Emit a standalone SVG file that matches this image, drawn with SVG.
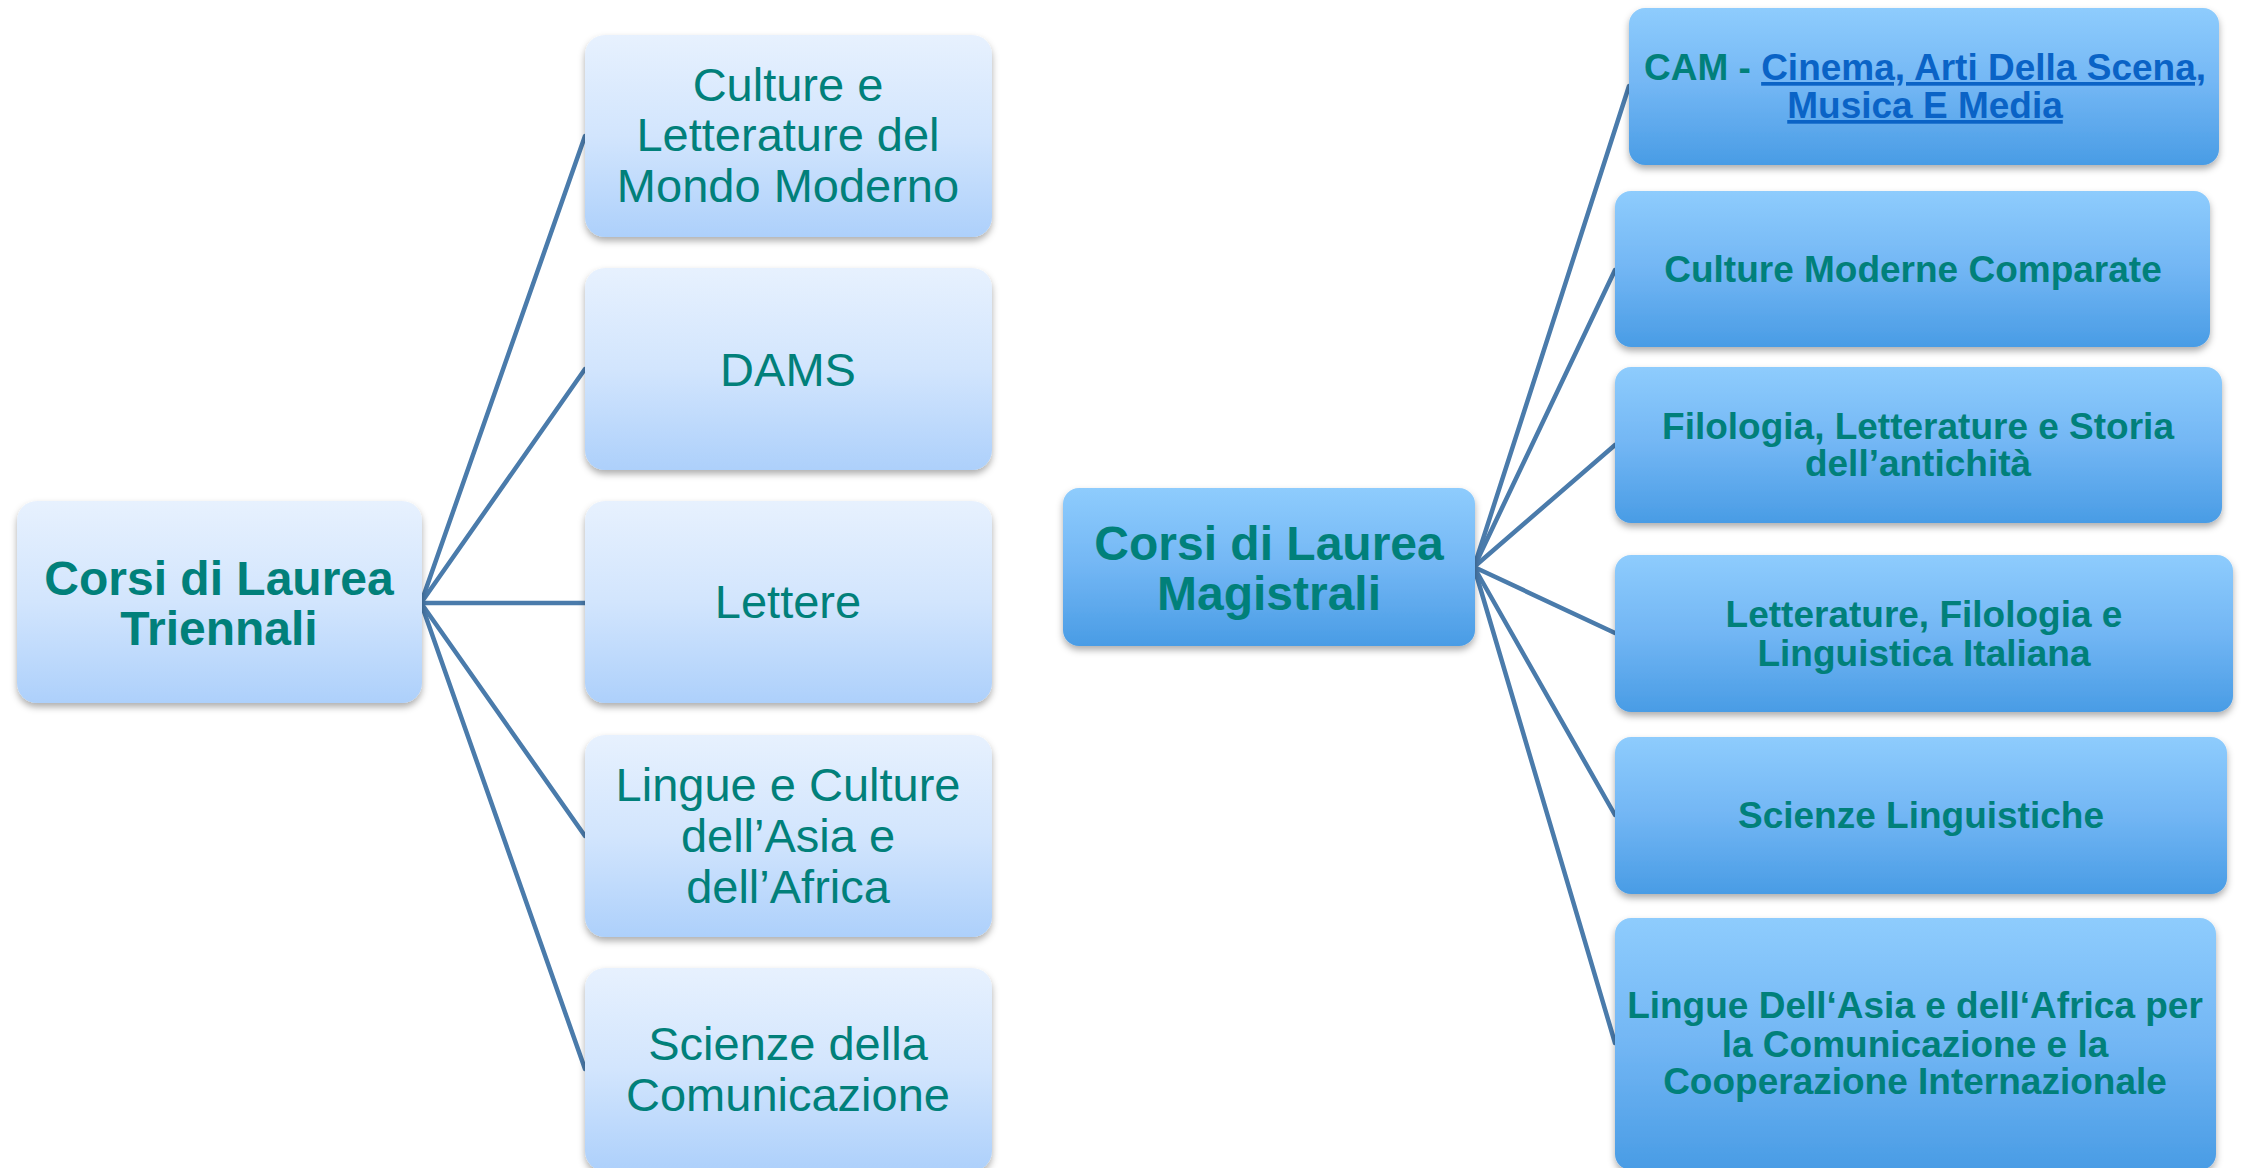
<svg xmlns="http://www.w3.org/2000/svg" width="2241" height="1168" viewBox="0 0 2241 1168">
  <defs>
    <linearGradient id="gLight" x1="0" y1="0" x2="0" y2="1">
      <stop offset="0" stop-color="#E7F1FE"/>
      <stop offset="0.5" stop-color="#D2E5FD"/>
      <stop offset="1" stop-color="#ADD0FB"/>
    </linearGradient>
    <linearGradient id="gDark" x1="0" y1="0" x2="0" y2="1">
      <stop offset="0" stop-color="#8ECCFD"/>
      <stop offset="0.5" stop-color="#72B6F4"/>
      <stop offset="1" stop-color="#499CE5"/>
    </linearGradient>
    <filter id="shadow" x="-10%" y="-10%" width="120%" height="130%">
      <feDropShadow dx="0" dy="4" stdDeviation="3.5" flood-color="#000000" flood-opacity="0.32"/>
    </filter>
  </defs>
  <style>
    .light { fill: url(#gLight); filter: url(#shadow); }
    .dark { fill: url(#gDark); filter: url(#shadow); }
    .reg { font-family: "Liberation Sans", Arial, sans-serif; font-size: 47px; fill: #01807A; text-anchor: middle; }
    .root { font-family: "Liberation Sans", Arial, sans-serif; font-size: 48px; font-weight: bold; fill: #01807A; text-anchor: middle; }
    .mag { font-family: "Liberation Sans", Arial, sans-serif; font-size: 37px; font-weight: bold; fill: #01807A; text-anchor: middle; }
    .link { fill: #0A63C6; text-decoration: underline; }
    .conn line { stroke: #4A7BAB; stroke-width: 4.5; stroke-linecap: round; }
  </style>
  <rect width="2241" height="1168" fill="#FFFFFF"/>

  <g id="connectors" class="conn">
    <line x1="421" y1="603" x2="585" y2="136"/>
    <line x1="421" y1="603" x2="585" y2="369"/>
    <line x1="421" y1="603" x2="585" y2="603"/>
    <line x1="421" y1="603" x2="585" y2="836"/>
    <line x1="421" y1="603" x2="585" y2="1069"/>
    <line x1="1474" y1="567" x2="1629" y2="86"/>
    <line x1="1474" y1="567" x2="1615" y2="270"/>
    <line x1="1474" y1="567" x2="1615" y2="445"/>
    <line x1="1474" y1="567" x2="1615" y2="633"/>
    <line x1="1474" y1="567" x2="1615" y2="815"/>
    <line x1="1474" y1="567" x2="1615" y2="1043"/>
  </g>

  <g id="root-triennali">
    <rect class="light" x="17" y="501" width="405" height="202" rx="20"/>
    <text class="root" x="219" y="595">Corsi di Laurea</text>
    <text class="root" x="219" y="645">Triennali</text>
  </g>

  <g id="t-culture">
    <rect class="light" x="585" y="35" width="407" height="202" rx="20"/>
    <text class="reg" x="788" y="101">Culture e</text>
    <text class="reg" x="788" y="151">Letterature del</text>
    <text class="reg" x="788" y="202">Mondo Moderno</text>
  </g>
  <g id="t-dams">
    <rect class="light" x="585" y="268" width="407" height="202" rx="20"/>
    <text class="reg" x="788" y="386">DAMS</text>
  </g>
  <g id="t-lettere">
    <rect class="light" x="585" y="501" width="407" height="202" rx="20"/>
    <text class="reg" x="788" y="618">Lettere</text>
  </g>
  <g id="t-lingue">
    <rect class="light" x="585" y="735" width="407" height="202" rx="20"/>
    <text class="reg" x="788" y="801">Lingue e Culture</text>
    <text class="reg" x="788" y="852">dell’Asia e</text>
    <text class="reg" x="788" y="903">dell’Africa</text>
  </g>
  <g id="t-scienze">
    <rect class="light" x="585" y="968" width="407" height="203" rx="20"/>
    <text class="reg" x="788" y="1060">Scienze della</text>
    <text class="reg" x="788" y="1111">Comunicazione</text>
  </g>

  <g id="root-magistrali">
    <rect class="dark" x="1063" y="488" width="412" height="158" rx="16"/>
    <text class="root" x="1269" y="560">Corsi di Laurea</text>
    <text class="root" x="1269" y="610">Magistrali</text>
  </g>

  <g id="m-cam">
    <rect class="dark" x="1629" y="8" width="590" height="157" rx="16"/>
    <text class="mag" x="1925" y="80">CAM - <tspan class="link">Cinema, Arti Della Scena,</tspan></text>
    <text class="mag" x="1925" y="118"><tspan class="link">Musica E Media</tspan></text>
  </g>
  <g id="m-culture">
    <rect class="dark" x="1615" y="191" width="595" height="156" rx="16"/>
    <text class="mag" x="1913" y="282">Culture Moderne Comparate</text>
  </g>
  <g id="m-filologia">
    <rect class="dark" x="1615" y="367" width="607" height="156" rx="16"/>
    <text class="mag" x="1918" y="439">Filologia, Letterature e Storia</text>
    <text class="mag" x="1918" y="476">dell’antichità</text>
  </g>
  <g id="m-letterature">
    <rect class="dark" x="1615" y="555" width="618" height="157" rx="16"/>
    <text class="mag" x="1924" y="627">Letterature, Filologia e</text>
    <text class="mag" x="1924" y="666">Linguistica Italiana</text>
  </g>
  <g id="m-scienze">
    <rect class="dark" x="1615" y="737" width="612" height="157" rx="16"/>
    <text class="mag" x="1921" y="828">Scienze Linguistiche</text>
  </g>
  <g id="m-lingue">
    <rect class="dark" x="1615" y="918" width="601" height="252" rx="16"/>
    <text class="mag" x="1915" y="1018">Lingue Dell‘Asia e dell‘Africa per</text>
    <text class="mag" x="1915" y="1057">la Comunicazione e la</text>
    <text class="mag" x="1915" y="1094">Cooperazione Internazionale</text>
  </g>
</svg>
